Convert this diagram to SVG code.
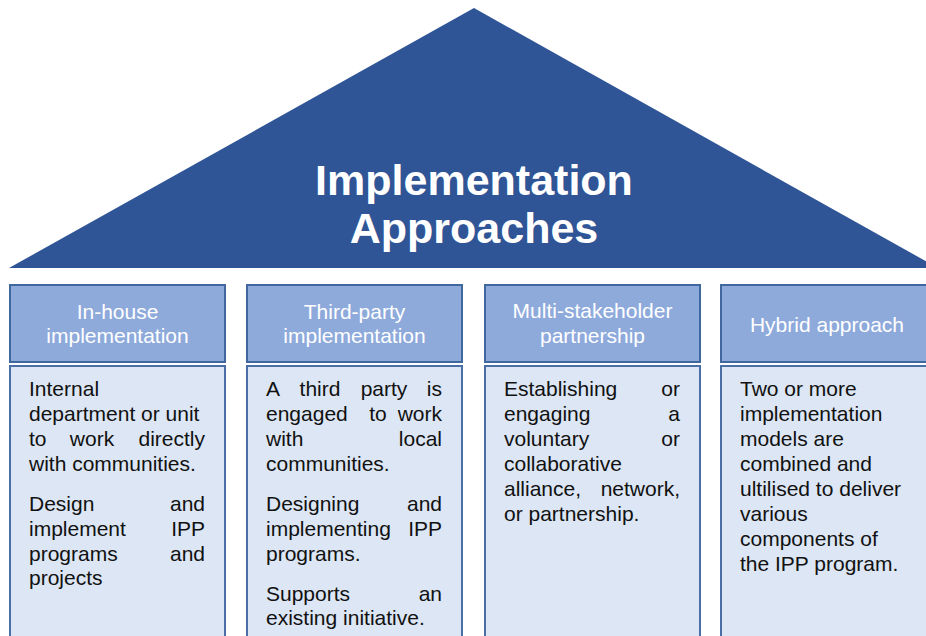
<svg xmlns="http://www.w3.org/2000/svg" width="926" height="636" viewBox="0 0 926 636">
<style>
.hdr{fill:#8eaadb;stroke:#41689e;stroke-width:2}
.body{fill:#dce6f4;stroke:#4a6ea6;stroke-width:2}
.ht{font-family:"Liberation Sans",Arial,sans-serif;font-size:21px;fill:#ffffff;text-anchor:middle}
.bt{font-family:"Liberation Sans",Arial,sans-serif;font-size:21px;fill:#111111}
.r{text-anchor:end}
.m{text-anchor:middle}
.title{font-family:"Liberation Sans",Arial,sans-serif;font-size:43px;font-weight:bold;fill:#ffffff;text-anchor:middle}
</style>
<rect width="926" height="636" fill="#ffffff"/>
<g id="roof">
<polygon points="474,8 9,268 938,268" fill="#2f5597"/>
<text class="title" x="474" y="195">Implementation</text>
<text class="title" x="474" y="243">Approaches</text>
</g>
<g id="col1">
<rect class="hdr" x="10" y="285" width="215" height="77"/>
<text class="ht" x="117.5" y="319">In-house</text>
<text class="ht" x="117.5" y="343">implementation</text>
<rect class="body" x="10" y="366" width="215" height="280"/>
<text class="bt" x="29" y="396">Internal</text>
<text class="bt" x="29" y="421">department or unit</text>
<text class="bt" x="29" y="446">to</text><text class="bt m" x="92" y="446">work</text><text class="bt r" x="205" y="446">directly</text>
<text class="bt" x="29" y="471">with communities.</text>
<text class="bt" x="29" y="511">Design</text><text class="bt r" x="205" y="511">and</text>
<text class="bt" x="29" y="536">implement</text><text class="bt r" x="205" y="536">IPP</text>
<text class="bt" x="29" y="561">programs</text><text class="bt r" x="205" y="561">and</text>
<text class="bt" x="29" y="585">projects</text>
</g>
<g id="col2">
<rect class="hdr" x="247" y="285" width="215" height="77"/>
<text class="ht" x="354.5" y="319">Third-party</text>
<text class="ht" x="354.5" y="343">implementation</text>
<rect class="body" x="247" y="366" width="215" height="280"/>
<text class="bt" x="266" y="396">A</text><text class="bt m" x="320" y="396">third</text><text class="bt m" x="384" y="396">party</text><text class="bt r" x="442" y="396">is</text>
<text class="bt" x="266" y="421">engaged</text><text class="bt m" x="378" y="421">to</text><text class="bt r" x="442" y="421">work</text>
<text class="bt" x="266" y="446">with</text><text class="bt r" x="442" y="446">local</text>
<text class="bt" x="266" y="471">communities.</text>
<text class="bt" x="266" y="511">Designing</text><text class="bt r" x="442" y="511">and</text>
<text class="bt" x="266" y="536">implementing</text><text class="bt r" x="442" y="536">IPP</text>
<text class="bt" x="266" y="561">programs.</text>
<text class="bt" x="266" y="601">Supports</text><text class="bt r" x="442" y="601">an</text>
<text class="bt" x="266" y="625">existing initiative.</text>
</g>
<g id="col3">
<rect class="hdr" x="485" y="285" width="215" height="77"/>
<text class="ht" x="592.5" y="318">Multi-stakeholder</text>
<text class="ht" x="592.5" y="343">partnership</text>
<rect class="body" x="485" y="366" width="215" height="280"/>
<text class="bt" x="504" y="396">Establishing</text><text class="bt r" x="680" y="396">or</text>
<text class="bt" x="504" y="421">engaging</text><text class="bt r" x="680" y="421">a</text>
<text class="bt" x="504" y="446">voluntary</text><text class="bt r" x="680" y="446">or</text>
<text class="bt" x="504" y="471">collaborative</text>
<text class="bt" x="504" y="496">alliance,</text><text class="bt r" x="680" y="496">network,</text>
<text class="bt" x="504" y="521">or partnership.</text>
</g>
<g id="col4">
<rect class="hdr" x="721" y="285" width="215" height="77"/>
<text class="ht" x="827" y="332">Hybrid approach</text>
<rect class="body" x="721" y="366" width="215" height="280"/>
<text class="bt" x="740" y="396">Two or more</text>
<text class="bt" x="740" y="421">implementation</text>
<text class="bt" x="740" y="446">models are</text>
<text class="bt" x="740" y="471">combined and</text>
<text class="bt" x="740" y="496">ultilised to deliver</text>
<text class="bt" x="740" y="521">various</text>
<text class="bt" x="740" y="546">components of</text>
<text class="bt" x="740" y="571">the IPP program.</text>
</g>
<g id="connectors"/>
</svg>
